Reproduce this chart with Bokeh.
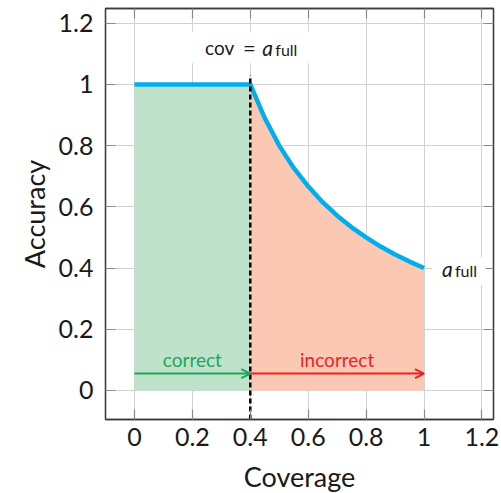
from bokeh.plotting import figure
from bokeh.models import (Range1d, FixedTicker, LinearAxis, Label, Arrow, OpenHead,
                          BoxAnnotation)
from bokeh.embed import file_html
from bokeh.resources import INLINE

# ---- data ----
x_ticks = [0, 0.2, 0.4, 0.6, 0.8, 1, 1.2]
x_tick_labels = ["0", "0.2", "0.4", "0.6", "0.8", "1", "1.2"]
y_ticks = [0, 0.2, 0.4, 0.6, 0.8, 1, 1.2]
y_tick_labels = ["0", "0.2", "0.4", "0.6", "0.8", "1", "1.2"]

cov_threshold = 0.4          # cov = a_full
a_full = 0.4
cov_correct = [0.0, 0.4]
acc_correct = [1.0, 1.0]
cov_incorrect = [0.4, 0.45, 0.5, 0.55, 0.6, 0.65, 0.7, 0.75, 0.8, 0.85, 0.9, 0.95, 1.0]
acc_incorrect = [1.0, 0.89, 0.80, 0.727, 0.667, 0.615, 0.571, 0.533, 0.50, 0.47, 0.444, 0.421, 0.40]
arrow_level = 0.055
vline_y = [-0.095, 1.03]

FONT = "Lato"
CYAN = "#00aeef"
GREEN_FILL = "#bfe2ca"
RED_FILL = "#fbc8b3"
GREEN = "#18a957"
RED = "#ee2127"
GRID = "#d2d2d2"
FRAME = "#3a3a3a"
TICK = "#8a8a8a"
TXT = "#1a1a1a"

p = figure(frame_width=388, frame_height=411,
           min_border_left=105, min_border_right=8, min_border_top=8, min_border_bottom=74,
           x_range=Range1d(-0.1, 1.24), y_range=Range1d(-0.095, 1.248),
           output_backend="svg", toolbar_location=None)
p.background_fill_color = "white"
p.border_fill_color = "white"
p.outline_line_color = FRAME
p.outline_line_width = 1.3

p.xaxis.ticker = FixedTicker(ticks=x_ticks)
p.yaxis.ticker = FixedTicker(ticks=y_ticks)
p.xaxis.major_label_overrides = dict(zip(x_ticks, x_tick_labels))
p.yaxis.major_label_overrides = dict(zip(y_ticks, y_tick_labels))
p.xaxis.axis_label = "Coverage"
p.yaxis.axis_label = "Accuracy"

for ax in (p.xaxis[0], p.yaxis[0]):
    ax.major_label_text_font = FONT
    ax.major_label_text_font_size = "25px"
    ax.major_label_text_color = TXT
    ax.axis_label_text_font = FONT
    ax.axis_label_text_font_size = "27px"
    ax.axis_label_text_font_style = "normal"
    ax.axis_label_text_color = TXT
    ax.major_tick_in = 10
    ax.major_tick_out = 0
    ax.major_tick_line_color = TICK
    ax.major_tick_line_width = 1.2
    ax.minor_tick_line_color = None
    ax.axis_line_color = FRAME
    ax.axis_line_width = 1.3
p.xaxis.major_label_standoff = 8
p.xaxis.axis_label_standoff = 11
p.yaxis.major_label_standoff = 12
p.yaxis.axis_label_standoff = 5

for loc, tk in (("above", x_ticks), ("right", y_ticks)):
    ax = LinearAxis(ticker=FixedTicker(ticks=tk))
    ax.major_label_text_font_size = "1px"
    ax.major_label_text_color = None
    ax.major_label_standoff = 0
    ax.major_tick_in = 10
    ax.major_tick_out = 0
    ax.major_tick_line_color = TICK
    ax.major_tick_line_width = 1.2
    ax.minor_tick_line_color = None
    ax.axis_line_color = FRAME
    ax.axis_line_width = 1.3
    p.add_layout(ax, loc)

p.xgrid.ticker = FixedTicker(ticks=x_ticks)
p.ygrid.ticker = FixedTicker(ticks=y_ticks)
p.xgrid.grid_line_color = GRID
p.ygrid.grid_line_color = GRID
p.xgrid.grid_line_width = 1
p.ygrid.grid_line_width = 1

# areas
p.varea(x=cov_correct, y1=[0, 0], y2=acc_correct, fill_color=GREEN_FILL, fill_alpha=1)
p.varea(x=cov_incorrect, y1=[0] * len(cov_incorrect), y2=acc_incorrect,
        fill_color=RED_FILL, fill_alpha=1)

# accuracy curve
p.line(x=cov_correct + cov_incorrect[1:], y=acc_correct + acc_incorrect[1:],
       line_color=CYAN, line_width=4.5, line_join="round")

# threshold dashed line
p.line(x=[cov_threshold, cov_threshold], y=vline_y, line_color="black",
       line_width=2.5, line_dash="5 3")

# arrows
p.add_layout(Arrow(x_start=cov_correct[0], y_start=arrow_level, x_end=cov_threshold, y_end=arrow_level,
                   line_color=GREEN, line_width=2,
                   end=OpenHead(size=9, line_color=GREEN, line_width=2)))
p.add_layout(Arrow(x_start=cov_threshold, y_start=arrow_level, x_end=cov_incorrect[-1], y_end=arrow_level,
                   line_color=RED, line_width=2,
                   end=OpenHead(size=9, line_color=RED, line_width=2)))

p.add_layout(Label(x=(cov_correct[0] + cov_threshold) / 2, y=arrow_level, y_offset=14,
                   text="correct", text_align="center", text_baseline="middle",
                   text_font=FONT, text_font_size="19px", text_color=GREEN))
p.add_layout(Label(x=(cov_threshold + cov_incorrect[-1]) / 2, y=arrow_level, y_offset=14,
                   text="incorrect", text_align="center", text_baseline="middle",
                   text_font=FONT, text_font_size="19px", text_color=RED))

# label: cov = a_full
p.add_layout(BoxAnnotation(left=0.19, right=0.61, bottom=1.069, top=1.173,
                           fill_color="white", fill_alpha=1, line_alpha=0))
ly = 1.12
p.add_layout(Label(x=cov_threshold, y=ly, x_offset=-16, text="cov", text_align="right",
                   text_baseline="middle", text_font=FONT, text_font_size="19px",
                   text_color=TXT))
p.add_layout(Label(x=cov_threshold, y=ly, x_offset=-1, text="=", text_align="center",
                   text_baseline="middle", text_font=FONT, text_font_size="22px",
                   text_color=TXT))
p.add_layout(Label(x=cov_threshold, y=ly, x_offset=12, text="a", text_align="left",
                   text_baseline="middle", text_font=FONT, text_font_size="21px",
                   text_font_style="italic", text_color=TXT))
p.add_layout(Label(x=cov_threshold, y=ly, x_offset=25, y_offset=-2, text="full", text_align="left",
                   text_baseline="middle", text_font=FONT, text_font_size="16px",
                   text_color=TXT))

# label: a_full at end of curve
p.add_layout(BoxAnnotation(left=1.028, right=1.212, bottom=0.343, top=0.435,
                           fill_color="white", fill_alpha=1, line_alpha=0))
p.add_layout(Label(x=cov_incorrect[-1], y=a_full, x_offset=18, text="a",
                   text_align="left", text_baseline="middle", text_font=FONT,
                   text_font_size="21px", text_font_style="italic", text_color=TXT))
p.add_layout(Label(x=cov_incorrect[-1], y=a_full, x_offset=31, y_offset=-2, text="full",
                   text_align="left", text_baseline="middle", text_font=FONT,
                   text_font_size="16px", text_color=TXT))

open("out.html", "w").write(file_html(p, INLINE))
